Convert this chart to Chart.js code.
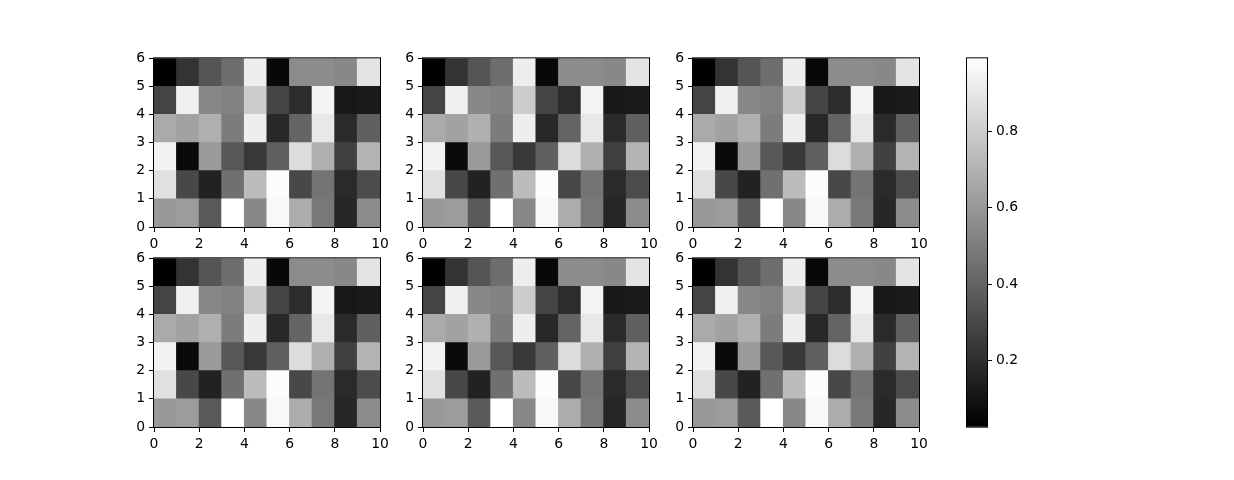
<!DOCTYPE html>
<html>
<head>
<meta charset="utf-8">
<script src="https://cdn.jsdelivr.net/npm/chart.js@4.4.1/dist/chart.umd.min.js"></script>
<style>
  body { margin: 0; background: #fff; width: 1234px; height: 480px; position: relative; overflow: hidden; }
  canvas { position: absolute; }
</style>
</head>
<body>
<script>
  // cell values, one list per row; row0 is the bottom row (y 0..1), x runs 0..9
  var row0 = [0.602, 0.617, 0.368, 0.990, 0.541, 0.964, 0.677, 0.481, 0.171, 0.556];
  var row1 = [0.873, 0.300, 0.156, 0.451, 0.737, 0.979, 0.300, 0.466, 0.186, 0.315];
  var row2 = [0.941, 0.066, 0.609, 0.360, 0.239, 0.390, 0.858, 0.692, 0.269, 0.707];
  var row3 = [0.669, 0.639, 0.692, 0.496, 0.926, 0.179, 0.405, 0.903, 0.186, 0.390];
  var row4 = [0.285, 0.934, 0.541, 0.518, 0.798, 0.285, 0.194, 0.949, 0.119, 0.126];
  var row5 = [0.028, 0.220, 0.349, 0.443, 0.926, 0.058, 0.556, 0.556, 0.541, 0.888];
  var rows = [row0, row1, row2, row3, row4, row5];

  var xTicks = [0, 2, 4, 6, 8, 10];
  var yTicks = [0, 1, 2, 3, 4, 5, 6];
  var cbTicks = [0.2, 0.4, 0.6, 0.8];

  // colour range is taken from the data like pcolormesh does
  var allVals = [].concat.apply([], rows);
  var vmin = Math.min.apply(null, allVals);
  var vmax = Math.max.apply(null, allVals);

  function grey(v)
  {
    var g = Math.round((v - vmin) / (vmax - vmin) * 255);
    return 'rgb(' + g + ',' + g + ',' + g + ')';
  }

  Chart.defaults.font.family = '"DejaVu Sans", sans-serif';
  Chart.defaults.font.size = 13.9;
  Chart.defaults.color = '#000';

  //black box round the plot area
  var framePlugin = {
    id: 'frame',
    afterDatasetsDraw: function(chart)
    {
      var a = chart.chartArea, c = chart.ctx;
      c.save();
      c.strokeStyle = '#000';
      c.lineWidth = 1;
      c.strokeRect(a.left - 0.5, a.top - 0.5, a.right - a.left + 1, a.bottom - a.top + 1);
      c.restore();
    }
  };

  // top-left corner of each subplot's plot area
  var panels = [[154, 58], [423, 58], [693, 58], [154, 258], [423, 258], [693, 258]];
  var panelW = 226, panelH = 169;
  var padL = 45, padT = 12, padR = 16, padB = 28;

  function tickGrid()
  {
    return { display: true, drawOnChartArea: false, drawTicks: true, tickLength: 5, color: '#000', lineWidth: 1, offset: false };
  }

  function makePanel(p)
  {
    var canvas = document.createElement('canvas');
    canvas.width = panelW + padL + padR;
    canvas.height = panelH + padT + padB;
    canvas.style.left = (p[0] - padL) + 'px';
    canvas.style.top = (p[1] - padT) + 'px';
    document.body.appendChild(canvas);

    var datasets = rows.map(function(row, j) {
      return {
        data: row.map(function(v, i) { return { x: i + 0.5, y: [j, j + 1] }; }),
        backgroundColor: row.map(grey),
        borderWidth: 0,
        grouped: false,
        barPercentage: 1,
        categoryPercentage: 1,
        inflateAmount: 0.5
      };
    });

    new Chart(canvas.getContext('2d'), {
      type: 'bar',
      data: { datasets: datasets },
      plugins: [framePlugin],
      options: {
        responsive: false,
        animation: false,
        events: [],
        layout: { padding: { left: 0, top: padT, right: padR, bottom: 0 } },
        plugins: { legend: { display: false }, tooltip: { enabled: false } },
        scales: {
          x: {
            type: 'linear', min: 0, max: 10, offset: false,
            afterBuildTicks: function(s) { s.ticks = xTicks.map(function(v) { return { value: v }; }); },
            afterFit: function(s) { s.height = padB; },
            grid: tickGrid(),
            border: { display: false },
            ticks: { padding: 4, maxRotation: 0, autoSkip: false }
          },
          y: {
            type: 'linear', min: 0, max: 6,
            afterBuildTicks: function(s) { s.ticks = yTicks.map(function(v) { return { value: v }; }); },
            afterFit: function(s) { s.width = padL; },
            grid: tickGrid(),
            border: { display: false },
            ticks: { padding: 4, autoSkip: false }
          }
        }
      }
    });
  }

  panels.forEach(makePanel);

  // colorbar
  var cbLeft = 967, cbTop = 58, cbW = 20, cbH = 369;
  var cbPadL = 4, cbPadR = 60, cbPadV = 12;
  var cbCanvas = document.createElement('canvas');
  cbCanvas.width = cbW + cbPadL + cbPadR;
  cbCanvas.height = cbH + 2 * cbPadV;
  cbCanvas.style.left = (cbLeft - cbPadL) + 'px';
  cbCanvas.style.top = (cbTop - cbPadV) + 'px';
  document.body.appendChild(cbCanvas);

  new Chart(cbCanvas.getContext('2d'), {
    type: 'bar',
    data: {
      labels: ['cb'],
      datasets: [{
        data: [[vmin, vmax]],
        borderWidth: 0,
        barPercentage: 1,
        categoryPercentage: 1,
        backgroundColor: function(ctx) {
          var chart = ctx.chart;
          if (!chart.chartArea || !chart.scales.y) return '#888';
          var ys = chart.scales.y;
          var g = chart.ctx.createLinearGradient(0, ys.getPixelForValue(vmax), 0, ys.getPixelForValue(vmin));
          g.addColorStop(0, grey(vmax));
          g.addColorStop(1, grey(vmin));
          return g;
        }
      }]
    },
    plugins: [framePlugin],
    options: {
      responsive: false,
      animation: false,
      events: [],
      layout: { padding: { left: cbPadL, top: cbPadV, right: 0, bottom: cbPadV } },
      plugins: { legend: { display: false }, tooltip: { enabled: false } },
      scales: {
        x: { display: false },
        y: {
          type: 'linear', position: 'right', min: vmin, max: vmax,
          afterBuildTicks: function(s) { s.ticks = cbTicks.map(function(v) { return { value: v }; }); },
          afterFit: function(s) { s.width = cbPadR; },
          grid: tickGrid(),
          border: { display: false },
          ticks: { padding: 4, autoSkip: false, callback: function(v) { return v.toFixed(1); } }
        }
      }
    }
  });
</script>
</body>
</html>
